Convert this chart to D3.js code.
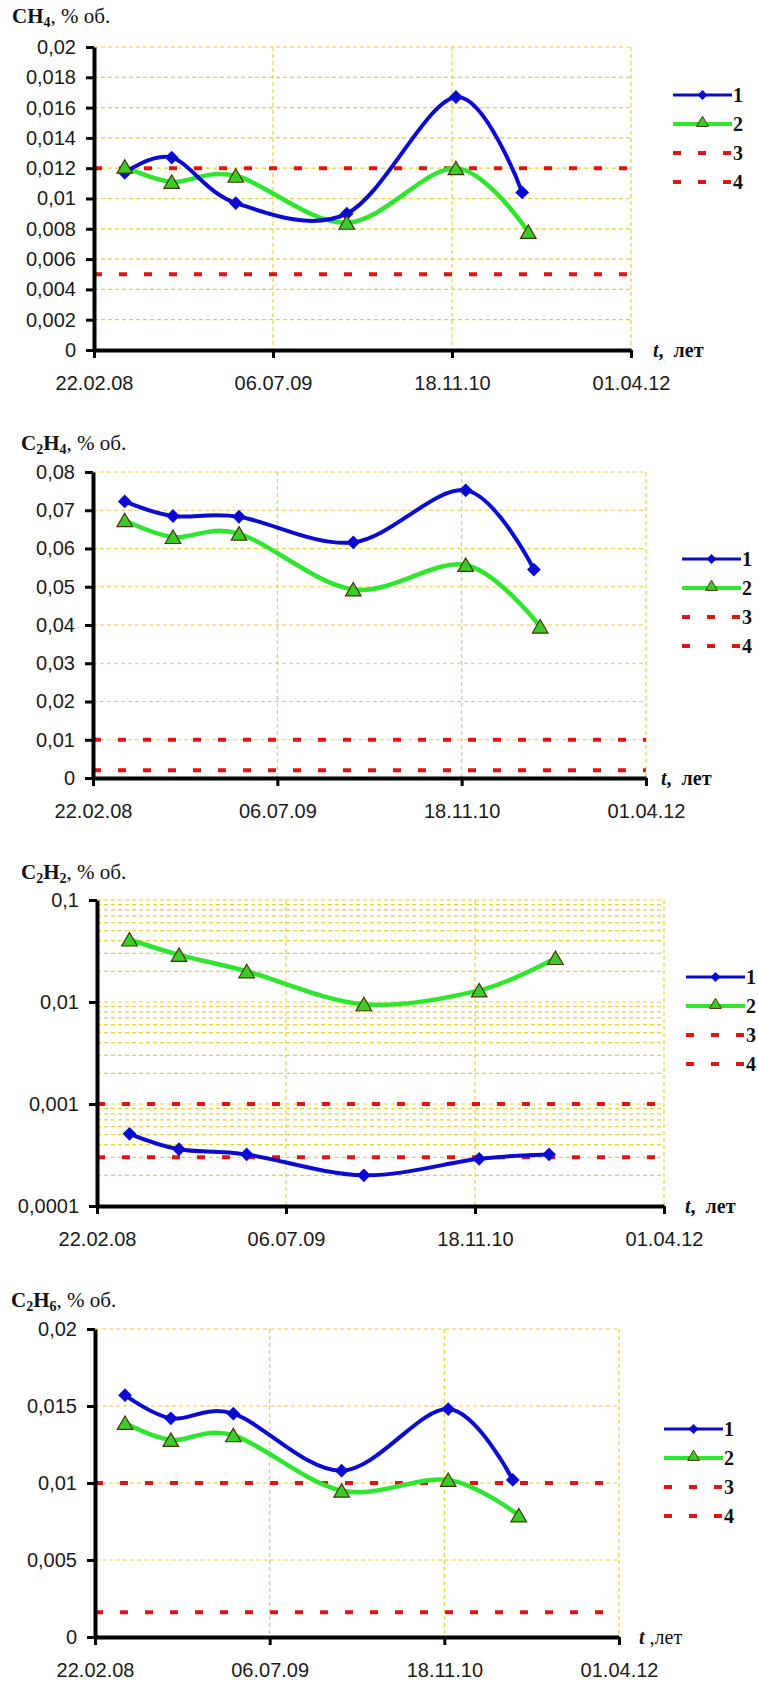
<!DOCTYPE html>
<html>
<head>
<meta charset="utf-8">
<script src="https://cdn.jsdelivr.net/npm/d3@7"></script>
<style>
  body { margin: 0; background: #fff; }
</style>
</head>
<body>
<svg id="chart"></svg>
<script>
// sampling dates (series 1 and series 2 differ only in the last one)
const dates1 = ["2008-05-18", "2008-09-26", "2009-03-24", "2010-01-28", "2010-11-29", "2011-06-02"]
const dates2 = ["2008-05-18", "2008-09-26", "2009-03-24", "2010-01-28", "2010-11-29", "2011-06-19"]
const tickDates = ["2008-02-22", "2009-07-06", "2010-11-18", "2012-04-01"]
const legendLabels = ["1", "2", "3", "4"]

// CH4
const ch4_1 = [0.0117, 0.0127, 0.0097, 0.0090, 0.0167, 0.0104]
const ch4_2 = [0.0121, 0.0111, 0.0115, 0.0084, 0.0120, 0.0078]
const ch4_limits = [0.012, 0.005]
const ch4_ticks = [0, 0.002, 0.004, 0.006, 0.008, 0.01, 0.012, 0.014, 0.016, 0.018, 0.02]

// C2H4
const c2h4_1 = [0.0723, 0.0685, 0.0683, 0.0616, 0.0752, 0.0545]
const c2h4_2 = [0.0674, 0.0630, 0.0639, 0.0493, 0.0557, 0.0396]
const c2h4_limits = [0.01, 0.002]
const c2h4_ticks = [0, 0.01, 0.02, 0.03, 0.04, 0.05, 0.06, 0.07, 0.08]

// C2H2 (log scale)
const c2h2_1 = [0.00051, 0.00036, 0.00032, 0.00020, 0.00029, 0.00032]
const c2h2_2 = [0.041, 0.029, 0.020, 0.0095, 0.013, 0.027]
const c2h2_limits = [0.001, 0.0003]
const c2h2_ticks = [0.0001, 0.001, 0.01, 0.1]

// C2H6
const c2h6_1 = [0.0157, 0.0142, 0.0145, 0.0108, 0.0148, 0.0102]
const c2h6_2 = [0.0139, 0.0128, 0.0131, 0.0095, 0.0102, 0.0079]
const c2h6_limits = [0.01, 0.0016]
const c2h6_ticks = [0, 0.005, 0.01, 0.015, 0.02]

const parse = d3.utcParse("%Y-%m-%d")
const fmtDate = d3.utcFormat("%d.%m.%y")
const fmtNum = v => String(+v.toPrecision(6)).replace(".", ",")

const blue = "#0a0ad2"
const green = "#2ee62e"
const red = "#e01414"
const gridColor = "#e9cf3c"
const serif = "'Liberation Serif', 'Times New Roman', serif"
const sans = "'Liberation Sans', Arial, sans-serif"

// layout of the four panels
const charts = [
  { name: ["C", "H", "4"], s1: ch4_1, s2: ch4_2, limits: ch4_limits, ticks: ch4_ticks, log: false,
    left: 94, right: 631, top: 47, bottom: 350, titleX: 12, titleY: 23, legX: 673, legY: 95, tX: 653, tText: [",  ", "лет"], tBold: true },
  { name: ["C", "2", "H", "4"], s1: c2h4_1, s2: c2h4_2, limits: c2h4_limits, ticks: c2h4_ticks, log: false,
    left: 93, right: 646, top: 472, bottom: 778, titleX: 21, titleY: 450, legX: 682, legY: 559, tX: 661, tText: [",  ", "лет"], tBold: true },
  { name: ["C", "2", "H", "2"], s1: c2h2_1, s2: c2h2_2, limits: c2h2_limits, ticks: c2h2_ticks, log: true,
    left: 97, right: 664, top: 900, bottom: 1206, titleX: 21, titleY: 879, legX: 686, legY: 977, tX: 685, tText: [",  ", "лет"], tBold: true },
  { name: ["C", "2", "H", "6"], s1: c2h6_1, s2: c2h6_2, limits: c2h6_limits, ticks: c2h6_ticks, log: false,
    left: 95, right: 619, top: 1329, bottom: 1637, titleX: 11, titleY: 1307, legX: 664, legY: 1429, tX: 639, tText: [" ,", "лет"], tBold: false }
]

const svg = d3.select("#chart")
  .attr("width", 758)
  .attr("height", 1684)
  .style("background", "#fff")

const diamond = d3.symbol().type(d3.symbolSquare)
const triangle = d3.symbol().type(d3.symbolTriangle)

charts.forEach(drawChart)

function drawChart(c) {
  const g = svg.append("g")

  const x = d3.scaleUtc()
    .domain([parse(tickDates[0]), parse(tickDates[tickDates.length - 1])])
    .range([c.left, c.right])

  const y = (c.log ? d3.scaleLog() : d3.scaleLinear())
    .domain([c.ticks[0], c.ticks[c.ticks.length - 1]])
    .range([c.bottom, c.top])

  // gridlines
  const gridVals = c.log ? y.ticks().filter(v => v > c.ticks[0] * 1.001) : c.ticks.slice(1)
  g.append("g").selectAll("line").data(gridVals).join("line")
    .attr("x1", c.left).attr("x2", c.right)
    .attr("y1", d => y(d)).attr("y2", d => y(d))
    .attr("stroke", gridColor).attr("stroke-width", 1.2)
    .attr("stroke-dasharray", "4,3")

  g.append("g").selectAll("line").data(tickDates.slice(1)).join("line")
    .attr("x1", d => x(parse(d))).attr("x2", d => x(parse(d)))
    .attr("y1", c.top).attr("y2", c.bottom)
    .attr("stroke", gridColor).attr("stroke-width", 1.2)
    .attr("stroke-dasharray", "4,3")

  // limit lines 3 and 4
  g.append("g").selectAll("line").data(c.limits).join("line")
    .attr("x1", c.left).attr("x2", c.right)
    .attr("y1", d => y(d)).attr("y2", d => y(d))
    .attr("stroke", red).attr("stroke-width", 4)
    .attr("stroke-dasharray", "8,17")

  // series
  const data1 = dates1.map((d, i) => ({ date: parse(d), value: c.s1[i] }))
  const data2 = dates2.map((d, i) => ({ date: parse(d), value: c.s2[i] }))

  const line = d3.line()
    .x(d => x(d.date))
    .y(d => y(d.value))
    .curve(d3.curveCatmullRom.alpha(0))

  g.append("path").datum(data2)
    .attr("d", line)
    .attr("fill", "none").attr("stroke", green).attr("stroke-width", 4.5)

  g.append("path").datum(data1)
    .attr("d", line)
    .attr("fill", "none").attr("stroke", blue).attr("stroke-width", 4)

  g.append("g").selectAll("path").data(data1).join("path")
    .attr("d", diamond.size(95)())
    .attr("transform", d => `translate(${x(d.date)},${y(d.value)}) rotate(45)`)
    .attr("fill", blue)

  g.append("g").selectAll("path").data(data2).join("path")
    .attr("d", triangle.size(105)())
    .attr("transform", d => `translate(${x(d.date)},${y(d.value) + 2})`)
    .attr("fill", "#3ccc2a").attr("stroke", "#4a3206").attr("stroke-width", 1.2)

  // axes
  const yAxis = d3.axisLeft(y)
    .tickValues(c.ticks)
    .tickFormat(fmtNum)
    .tickSize(8)
    .tickSizeOuter(0)
    .tickPadding(10)

  const xAxis = d3.axisBottom(x)
    .tickValues(tickDates.map(parse))
    .tickFormat(fmtDate)
    .tickSize(8)
    .tickSizeOuter(0)
    .tickPadding(18)

  const ya = g.append("g")
    .attr("transform", `translate(${c.left},0)`)
    .call(yAxis)
  const xa = g.append("g")
    .attr("transform", `translate(0,${c.bottom})`)
    .call(xAxis)

  ;[ya, xa].forEach(a => {
    a.select(".domain").attr("stroke", "#000").attr("stroke-width", 4)
    a.selectAll(".tick line").attr("stroke", "#000").attr("stroke-width", 3)
    a.selectAll(".tick text")
      .attr("fill", "#1a1a1a")
      .style("font-family", sans)
      .style("font-size", "20px")
  })

  // title: bold formula with subscripts, then units
  const title = g.append("text")
    .attr("x", c.titleX).attr("y", c.titleY)
    .style("font-family", serif)
    .style("font-size", "21px")
    .attr("fill", "#111")
  let shift = 0
  c.name.forEach(part => {
    const isSub = /\d/.test(part)
    const dy = (isSub ? 4 : 0) - shift
    shift = isSub ? 4 : 0
    title.append("tspan")
      .text(part)
      .attr("font-weight", "bold")
      .attr("font-size", isSub ? "14px" : "21px")
      .attr("dy", dy)
  })
  title.append("tspan").text(", % об.").attr("dy", -shift)

  // axis caption
  const tl = g.append("text")
    .attr("x", c.tX).attr("y", c.bottom + 7)
    .style("font-family", serif)
    .style("font-size", "20px")
    .style("white-space", "pre")
    .attr("fill", "#111")
  tl.append("tspan").text("t").attr("font-weight", "bold").attr("font-style", "italic")
  tl.append("tspan").text(c.tText[0] + c.tText[1]).attr("font-weight", c.tBold ? "bold" : "normal")

  // legend
  const lg = g.append("g")
  legendLabels.forEach((lab, i) => {
    const ly = c.legY + i * 29
    const row = lg.append("g")
    if (i === 0) {
      row.append("line").attr("x1", c.legX).attr("x2", c.legX + 59).attr("y1", ly).attr("y2", ly)
        .attr("stroke", blue).attr("stroke-width", 3)
      row.append("path").attr("d", diamond.size(50)())
        .attr("transform", `translate(${c.legX + 29.5},${ly}) rotate(45)`)
        .attr("fill", blue)
    } else if (i === 1) {
      row.append("line").attr("x1", c.legX).attr("x2", c.legX + 59).attr("y1", ly).attr("y2", ly)
        .attr("stroke", green).attr("stroke-width", 4)
      row.append("path").attr("d", triangle.size(60)())
        .attr("transform", `translate(${c.legX + 29.5},${ly - 1})`)
        .attr("fill", "#3ccc2a").attr("stroke", "#4a3206").attr("stroke-width", 1)
    } else {
      row.append("line").attr("x1", c.legX).attr("x2", c.legX + 59).attr("y1", ly).attr("y2", ly)
        .attr("stroke", red).attr("stroke-width", 4).attr("stroke-dasharray", "8,17")
    }
    row.append("text")
      .attr("x", c.legX + 60).attr("y", ly).attr("dy", "0.35em")
      .text(lab)
      .style("font-family", serif)
      .style("font-size", "20px")
      .attr("font-weight", "bold")
      .attr("fill", "#111")
  })
}
</script>
</body>
</html>
